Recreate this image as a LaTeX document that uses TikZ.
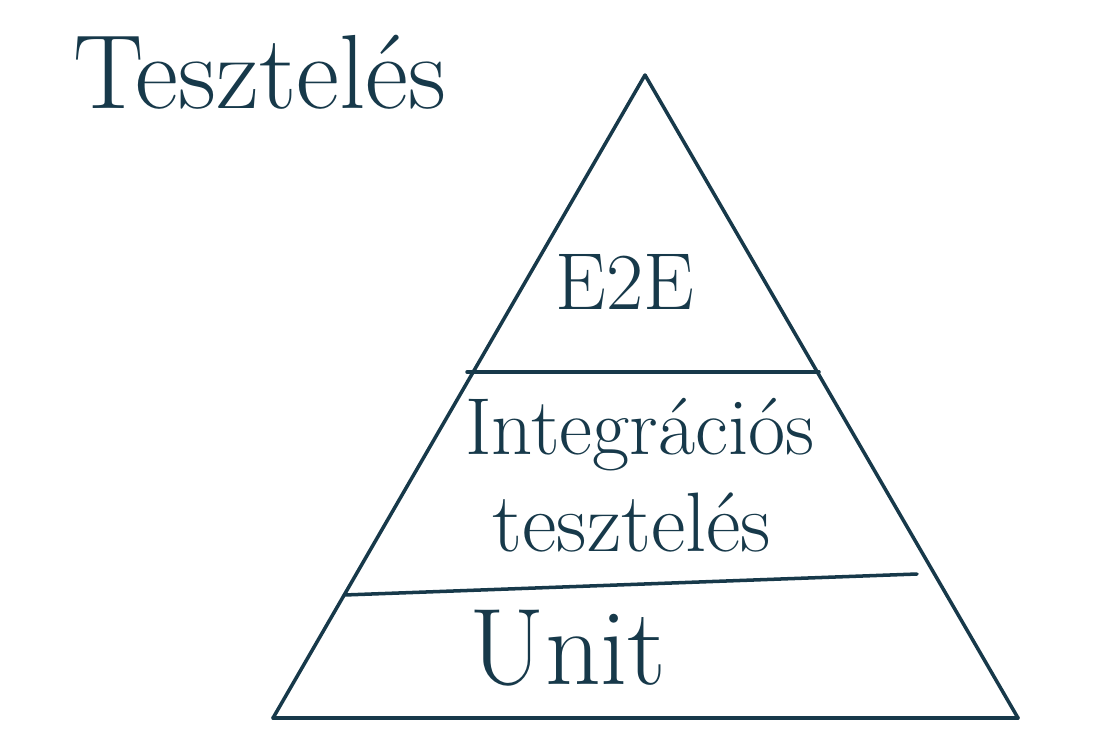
\documentclass[tikz,border=0pt]{standalone}
\usepackage{tikz}

\definecolor{ink}{HTML}{17394A}
\tikzset{
  pen/.style={draw=ink, line width=2pt, line join=round, line cap=round},
  label/.style={text=ink, inner sep=0pt}
}

\begin{document}
\begin{tikzpicture}[x=0.02cm, y=-0.02cm]
      \useasboundingbox (0,0) rectangle (1114,747);

      % pyramid corners and the two dividing lines
      \coordinate (top) at (645,75);
      \coordinate (bl) at (273,718);
      \coordinate (br) at (1018,718);
      \coordinate (aL) at (467,372);
      \coordinate (aR) at (819,372);
      \coordinate (bL) at (344,595);
      \coordinate (bR) at (917,574);

      \foreach \from/\to in {top/bl,bl/br,br/top,aL/aR,bL/bR}
        \draw[pen] (\from) -- (\to);

      \node[label, font=\fontsize{60}{70}\selectfont] (title) at (260,72) {Tesztelés};
      \node[label, font=\fontsize{46}{54}\selectfont] (e2e) at (625,282) {E2E};
      \node[label, font=\fontsize{46}{54}\selectfont] (integ) at (640,435) {Integrációs};
      \node[label, font=\fontsize{48}{56}\selectfont] (tesz) at (632,522) {tesztelés};
      \node[label, font=\fontsize{62}{70}\selectfont] (unit) at (568,648) {Unit};
    \end{tikzpicture}
\end{document}
